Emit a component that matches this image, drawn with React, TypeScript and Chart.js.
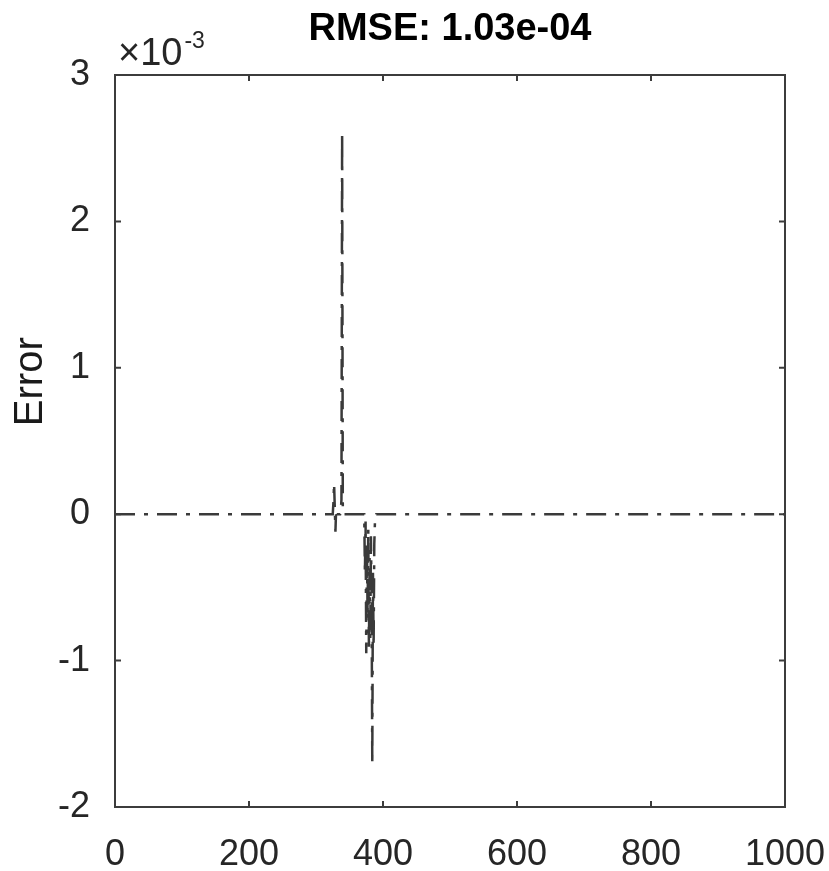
import React, { useEffect, useRef } from "react";
import { Chart, registerables } from "chart.js";

Chart.register(...registerables);

// Plot text
const TITLE = "RMSE: 1.03e-04";
const Y_LABEL = "Error";
const Y_EXPONENT = -3; // y values below are in units of 10^-3

// Axis ranges and tick steps
const X_RANGE = [0, 1000];
const X_STEP = 200;
const Y_RANGE = [-2, 3];
const Y_STEP = 1;

// Error trace: sample index and error (x 10^-3); flat zero outside the listed burst
const sampleIdx = [
  0, 325, 326, 327, 328, 329, 330, 331, 332, 336, 337, 338, 339, 340, 341,
  370, 372, 373, 374, 375, 376, 377, 378, 379, 380, 381, 382, 383, 384, 385,
  386, 387, 388, 390, 1000,
];
const errorVal = [
  0, 0, 0.08, 0.21, 0.05, -0.12, 0.03, 0, 0, 0, 0.02, 0.1, 2.61, 0.05, 0,
  0, 0, -0.4, -0.05, -0.95, -0.2, -0.7, -0.1, -0.93, -0.3, -0.85, -0.15, -0.6, -1.71, -0.4,
  -0.9, -0.2, -0.05, 0, 0,
];

const FONT = '"Liberation Sans", Arial, sans-serif';
const TEXT_COLOR = "#262626";
const AXIS_COLOR = "#3c3c3c";
const LINE_COLOR = "#3a3a3a";

// Box frame with inward ticks, the axis exponent and the y-axis label
const matlabFrame = {
  id: "matlabFrame",
  afterDatasetsDraw(chart: any) {
    const { ctx, chartArea: a, scales } = chart;
    const tickLen = 6;
    ctx.save();
    ctx.strokeStyle = AXIS_COLOR;
    ctx.lineWidth = 2;
    ctx.strokeRect(a.left, a.top, a.right - a.left, a.bottom - a.top);
    ctx.beginPath();
    for (const t of scales.x.ticks) {
      const px = scales.x.getPixelForValue(t.value);
      ctx.moveTo(px, a.bottom);
      ctx.lineTo(px, a.bottom - tickLen);
      ctx.moveTo(px, a.top);
      ctx.lineTo(px, a.top + tickLen);
    }
    for (const t of scales.y.ticks) {
      const py = scales.y.getPixelForValue(t.value);
      ctx.moveTo(a.left, py);
      ctx.lineTo(a.left + tickLen, py);
      ctx.moveTo(a.right, py);
      ctx.lineTo(a.right - tickLen, py);
    }
    ctx.stroke();

    // "×10^-3" above the top-left corner
    ctx.fillStyle = TEXT_COLOR;
    ctx.textAlign = "left";
    ctx.textBaseline = "alphabetic";
    ctx.font = `38px ${FONT}`;
    const base = "\u00d710";
    ctx.fillText(base, a.left + 3, a.top - 10);
    const w = ctx.measureText(base).width;
    ctx.font = `23px ${FONT}`;
    ctx.fillText(String(Y_EXPONENT), a.left + 3 + w + 2, a.top - 27);

    // y-axis label
    ctx.translate(31, a.top + (a.bottom - a.top) * 0.419);
    ctx.rotate(-Math.PI / 2);
    ctx.font = `40px ${FONT}`;
    ctx.textAlign = "center";
    ctx.textBaseline = "middle";
    ctx.fillStyle = "#1a1a1a";
    ctx.fillText(Y_LABEL, 0, 0);
    ctx.restore();
  },
};

export default function App() {
  const canvasRef = useRef<HTMLCanvasElement | null>(null);

  useEffect(() => {
    const canvas = canvasRef.current;
    if (!canvas) return;
    const points = sampleIdx.map((x, i) => ({ x, y: errorVal[i] }));
    const chart = new Chart(canvas, {
      type: "line",
      data: {
        datasets: [
          {
            data: points,
            borderColor: LINE_COLOR,
            borderWidth: 2.5,
            borderDash: [20, 9, 4, 9],
            pointRadius: 0,
            tension: 0,
            fill: false,
          },
        ],
      },
      options: {
        responsive: false,
        animation: false,
        events: [],
        layout: {
          autoPadding: false,
          padding: { left: 0, right: 44, top: 0, bottom: 0 },
        },
        plugins: {
          legend: { display: false },
          tooltip: { enabled: false },
          title: {
            display: true,
            text: TITLE,
            fullSize: false,
            color: "#000",
            font: { family: FONT, size: 38, weight: "bold" },
            padding: { top: 7, bottom: 22.4 },
          },
        },
        scales: {
          x: {
            type: "linear",
            min: X_RANGE[0],
            max: X_RANGE[1],
            grid: { display: false },
            border: { display: false },
            ticks: {
              stepSize: X_STEP,
              color: TEXT_COLOR,
              font: { family: FONT, size: 36 },
              padding: 18,
              maxRotation: 0,
              autoSkip: false,
              callback: (v: any) => String(Math.round(Number(v))),
            },
            afterFit(s: any) {
              s.height = 64;
              s.paddingLeft = 0;
              s.paddingRight = 0;
            },
          },
          y: {
            type: "linear",
            min: Y_RANGE[0],
            max: Y_RANGE[1],
            grid: { display: false },
            border: { display: false },
            ticks: {
              stepSize: Y_STEP,
              color: TEXT_COLOR,
              font: { family: FONT, size: 36 },
              padding: 17,
              callback: (v: any) => String(Math.round(Number(v))),
            },
            afterFit(s: any) {
              s.width = 115;
              s.paddingTop = 0;
              s.paddingBottom = 0;
            },
          },
        },
      },
      plugins: [matlabFrame],
    });
    return () => chart.destroy();
  }, []);

  return (
    <div style={{ position: "absolute", left: 0, top: 0, width: 829, height: 871, background: "#fff" }}>
      <canvas ref={canvasRef} width={829} height={871} style={{ display: "block" }} />
    </div>
  );
}
